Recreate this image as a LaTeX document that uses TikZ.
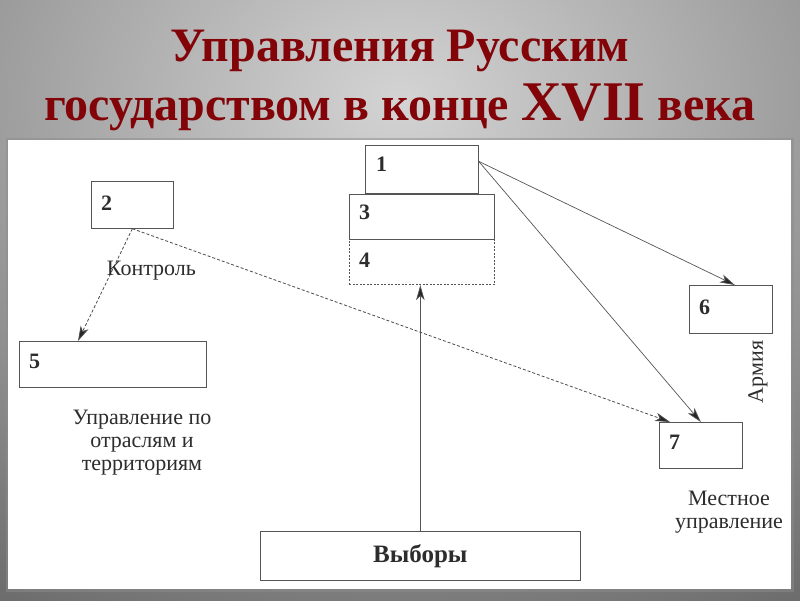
\documentclass[tikz,border=0pt]{standalone}
\usepackage{fontspec}
\setmainfont{Liberation Serif}
\usetikzlibrary{positioning,arrows.meta}

\definecolor{titlered}{RGB}{130,4,8}
\definecolor{linegray}{RGB}{85,85,85}
\definecolor{textgray}{RGB}{45,45,45}

\begin{document}
\begin{tikzpicture}[
	x=1pt, y=-1pt,
	>={Stealth[length=15pt,width=8.5pt,inset=4pt,fill=black!85]},
	box/.style={
		draw=linegray,
		line width=0.7pt,
		inner sep=0pt,
		anchor=north west
	},
	num/.style={
		font=\fontsize{22}{22}\selectfont\bfseries,
		text=textgray,
		inner sep=0pt,
		anchor=west
	},
	note/.style={
		font=\fontsize{22}{23}\selectfont,
		text=textgray,
		align=center
	},
	link/.style={->, draw=linegray, line width=0.7pt},
	ctrl/.style={->, draw=black!70, line width=0.8pt, dash pattern=on 3pt off 2pt},
	heading/.style={
		font=\fontsize{48}{48}\selectfont\bfseries,
		text=titlered,
		anchor=base
	}
	]
	
	%--------------------------------------------------
	% Background and title
	%--------------------------------------------------
	
	\clip (0,0) rectangle (800,600);
	\shade[inner color=black!17, outer color=black!62] (-450,-550) rectangle (1250,750);
	\fill[black!45, opacity=0.5] (6,138) rectangle (794,592);
	\fill[white] (8,140) rectangle (791,589);
	
	\node[heading] (t1) at (400,61) {Управления Русским};
	\node[heading] (t2) at (400,120) {государством в конце {\fontsize{56}{56}\selectfont XVII} века};
	
	%--------------------------------------------------
	% Centre column
	%--------------------------------------------------
	
	\node[box, minimum width=113pt, minimum height=48pt] (b1) at (365,145) {};
	
	\node[box, minimum width=145pt, minimum height=45pt, below=0pt of b1] (b3) {};
	
	\node[box, minimum width=145pt, minimum height=45pt, below=0pt of b3,
	dash pattern=on 2pt off 1.5pt] (b4) {};
	
	\node[box, minimum width=320pt, minimum height=49pt] (vyb) at (260,531)
	{\fontsize{25}{25}\selectfont\bfseries\color{textgray}Выборы};
	
	%--------------------------------------------------
	% Left side
	%--------------------------------------------------
	
	\node[box, minimum width=82pt, minimum height=47pt] (b2) at (91,181) {};
	
	\node[box, minimum width=187pt, minimum height=46pt] (b5) at (19,341) {};
	
	%--------------------------------------------------
	% Right side
	%--------------------------------------------------
	
	\node[box, minimum width=83pt, minimum height=48pt] (b6) at (689,285) {};
	
	\node[box, minimum width=83pt, minimum height=46pt] (b7) at (659,422) {};
	
	%--------------------------------------------------
	% Numbers
	%--------------------------------------------------
	
	\node[num] (n1) at ([shift={(11pt,-19pt)}]b1.north west) {1};
	\node[num] (n2) at ([shift={(10pt,-22pt)}]b2.north west) {2};
	\node[num] (n3) at ([shift={(10pt,-19pt)}]b3.north west) {3};
	\node[num] (n4) at ([shift={(10pt,-21pt)}]b4.north west) {4};
	\node[num] (n5) at ([shift={(10pt,-20pt)}]b5.north west) {5};
	\node[num] (n6) at ([shift={(10pt,-22pt)}]b6.north west) {6};
	\node[num] (n7) at ([shift={(10pt,-20pt)}]b7.north west) {7};
	
	%--------------------------------------------------
	% Notes
	%--------------------------------------------------
	
	\node[note] (otr) at (142,443) {Управление по\\отраслям и\\территориям};
	
	\node[note, rotate=90] (arm) at (758,372) {Армия};
	
	\node[note] (mest) at (729,512) {Местное\\управление};
	
	%--------------------------------------------------
	% Flow
	%--------------------------------------------------
	
	\draw[link]
	([yshift=8pt]b1.east) -- ([xshift=4pt]b6.north);
	
	\draw[link]
	([yshift=8pt]b1.east) -- (b7.north);
	
	\draw[link]
	(vyb.north) -- (vyb.north |- b4.south);
	
	\draw[ctrl]
	(b2.south) -- node[note, pos=0.37, right=-9pt] {Контроль} ([xshift=59pt]b5.north west);
	
	\draw[ctrl]
	(b2.south) -- ([xshift=11pt]b7.north west);
	
\end{tikzpicture}
\end{document}
